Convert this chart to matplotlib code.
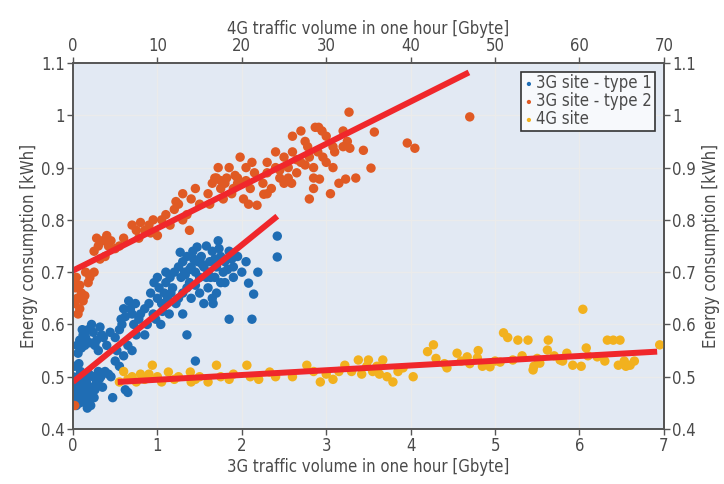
import matplotlib
matplotlib.use("Agg")
import matplotlib.pyplot as plt
from matplotlib.ticker import FuncFormatter

plt.rcParams['font.family'] = ['DejaVu Sans']
plt.rcParams['font.stretch'] = 'condensed'

BLUE = "#1f6db4"
ORANGE = "#e05a24"
YELLOW = "#f2b11e"
RED = "#f0272b"
BG = "#e2e9f3"
TEXT = "#4a4a4a"

# 3G site - type 1 (x: 3G traffic in Gbyte)
type1_x = [0.02, 0.05, 0.08, 0.10, 0.12, 0.15, 0.18, 0.20, 0.22, 0.25, 0.03, 0.06, 0.09, 0.13,
           0.16, 0.19, 0.24, 0.28, 0.30, 0.33, 0.02, 0.07, 0.11, 0.14, 0.26, 0.04, 0.17, 0.21,
           0.35, 0.38, 0.42, 0.45, 0.00, 0.01, 0.04, 0.09, 0.13, 0.17, 0.23, 0.27, 0.31, 0.01,
           0.05, 0.08, 0.10, 0.12, 0.15, 0.18, 0.20, 0.24, 0.28, 0.32, 0.36, 0.40, 0.44, 0.06,
           0.14, 0.30, 0.22, 0.11, 0.26, 0.34,
           0.50, 0.55, 0.60, 0.65, 0.70, 0.58, 0.62, 0.68, 0.72, 0.75, 0.50, 0.55, 0.47, 0.62,
           0.65, 0.80, 0.85, 0.78, 0.60, 0.66, 0.52, 0.57, 0.70, 0.74,
           0.85, 0.90, 0.95, 1.00, 1.02, 1.05, 1.08, 1.10, 1.12, 1.15, 1.18, 1.20, 0.92, 0.98,
           1.04, 1.00, 0.88, 1.06, 1.14, 1.22, 0.96, 1.10, 1.16,
           1.25, 1.28, 1.30, 1.32, 1.35, 1.38, 1.40, 1.42, 1.45, 1.48, 1.50, 1.52, 1.55, 1.58,
           1.60, 1.62, 1.65, 1.68, 1.70, 1.72, 1.75, 1.78, 1.80, 1.85, 1.90, 1.95, 2.00, 1.27,
           1.47, 1.30, 1.40, 1.50, 1.60, 1.55, 1.70, 1.80, 1.90, 2.05, 1.35, 1.45, 1.25, 1.65,
           1.75, 1.33, 1.43, 1.53, 1.63, 1.73, 1.83, 1.38, 1.58, 1.68, 1.88,
           2.42, 2.42, 2.19, 2.08, 2.14, 1.85, 2.12, 1.35, 1.45, 1.30, 1.66]
type1_y = [0.460, 0.470, 0.450, 0.480, 0.460, 0.450, 0.470, 0.455, 0.480, 0.460, 0.490, 0.500,
           0.510, 0.500, 0.490, 0.505, 0.500, 0.490, 0.510, 0.500, 0.520, 0.525, 0.485, 0.470,
           0.475, 0.445, 0.440, 0.445, 0.480, 0.510, 0.505, 0.500, 0.500, 0.475, 0.465, 0.495,
           0.485, 0.460, 0.470, 0.500, 0.495, 0.455,
           0.560, 0.570, 0.555, 0.580, 0.575, 0.590, 0.565, 0.585, 0.570, 0.595, 0.575, 0.560,
           0.585, 0.545, 0.560, 0.550, 0.600, 0.590, 0.560, 0.580,
           0.530, 0.520, 0.540, 0.560, 0.550, 0.600, 0.615, 0.630, 0.600, 0.580, 0.575, 0.590,
           0.460, 0.475, 0.470, 0.620, 0.580, 0.610, 0.630, 0.645, 0.550, 0.610, 0.620, 0.640,
           0.630, 0.640, 0.620, 0.650, 0.670, 0.640, 0.660, 0.680, 0.650, 0.690, 0.670, 0.700,
           0.660, 0.610, 0.600, 0.690, 0.600, 0.625, 0.620, 0.640, 0.680, 0.700, 0.660,
           0.710, 0.690, 0.720, 0.700, 0.730, 0.680, 0.710, 0.740, 0.700, 0.720, 0.690, 0.730,
           0.710, 0.750, 0.700, 0.720, 0.740, 0.690, 0.710, 0.760, 0.730, 0.700, 0.720, 0.740,
           0.710, 0.730, 0.700, 0.738, 0.748, 0.660, 0.650, 0.660, 0.670, 0.640, 0.660, 0.680,
           0.690, 0.720, 0.670, 0.675, 0.650, 0.650, 0.680, 0.695, 0.725, 0.715, 0.690, 0.745,
           0.705, 0.705, 0.690, 0.725, 0.725,
           0.769, 0.729, 0.700, 0.679, 0.658, 0.610, 0.610, 0.580, 0.530, 0.620, 0.640]

# 3G site - type 2 (x: 3G traffic in Gbyte)
type2_x = [0.02, 0.05, 0.08, 0.03, 0.10, 0.06, 0.12, 0.04, 0.15, 0.20, 0.25, 0.08, 0.18, 0.00,
           0.14, 0.02,
           0.30, 0.35, 0.40, 0.25, 0.45, 0.38, 0.28, 0.50, 0.32, 0.42, 0.55,
           0.70, 0.80, 0.85, 0.90, 0.75, 0.95, 1.00, 0.78, 0.92, 0.60,
           1.10, 1.20, 1.25, 1.30, 1.35, 1.40, 1.15, 1.45, 1.50, 1.38, 1.30, 1.05, 1.22,
           1.60, 1.65, 1.70, 1.75, 1.80, 1.85, 1.90, 1.95, 2.00, 2.05, 2.10, 2.15, 1.72, 1.62,
           1.88, 1.98, 2.02, 2.08, 1.78, 1.68, 2.12, 1.95, 1.82, 1.92, 1.75, 2.05,
           2.25, 2.30, 2.35, 2.40, 2.45, 2.50, 2.55, 2.60, 2.65, 2.70, 2.75, 2.80, 2.85, 2.90,
           2.95, 3.00, 2.50, 2.59, 2.30, 2.70, 2.40, 2.85, 3.00, 2.60, 2.55, 2.78, 2.96, 2.30,
           2.87, 2.91, 2.18, 2.26, 2.45, 2.65, 2.75,
           3.08, 3.10, 3.20, 3.28, 3.35, 3.15, 3.25, 3.05, 3.27, 3.57, 3.44, 3.53, 3.23, 2.80,
           3.96, 4.05, 4.70, 3.08, 2.92, 3.20, 2.85]
type2_y = [0.640, 0.650, 0.630, 0.670, 0.660, 0.620, 0.645, 0.690, 0.700, 0.690, 0.700, 0.675,
           0.680, 0.680, 0.655, 0.445,
           0.750, 0.760, 0.770, 0.740, 0.760, 0.730, 0.765, 0.745, 0.725, 0.750, 0.750,
           0.790, 0.795, 0.780, 0.790, 0.780, 0.800, 0.770, 0.765, 0.775, 0.765,
           0.810, 0.820, 0.830, 0.850, 0.810, 0.840, 0.790, 0.860, 0.830, 0.780, 0.800, 0.800,
           0.835,
           0.850, 0.870, 0.880, 0.860, 0.870, 0.900, 0.860, 0.880, 0.870, 0.900, 0.860, 0.890,
           0.900, 0.830, 0.850, 0.920, 0.840, 0.830, 0.840, 0.880, 0.910, 0.870, 0.880, 0.885,
           0.875, 0.875,
           0.870, 0.890, 0.860, 0.900, 0.880, 0.920, 0.900, 0.930, 0.890, 0.910, 0.950, 0.920,
           0.900, 0.930, 0.970, 0.960, 0.870, 0.870, 0.850, 0.970, 0.930, 0.880, 0.910, 0.960,
           0.880, 0.940, 0.920, 0.910, 0.977, 0.977, 0.828, 0.849, 0.895, 0.915, 0.905,
           0.940, 0.930, 0.940, 0.937, 0.880, 0.870, 0.950, 0.850, 1.006, 0.968, 0.933, 0.899,
           0.878, 0.840, 0.947, 0.937, 0.997, 0.900, 0.878, 0.970, 0.860]

# 4G site (x: 4G traffic in Gbyte, top axis)
g4_x = [5.5, 6.5, 7.0, 7.5, 8.0, 8.5, 9.4, 10.0, 10.5, 11.3, 12.0, 12.5, 13.9, 14.5, 15.0, 16.0,
        17.0, 17.5, 18.5, 19.0, 20.6, 21.0, 22.0, 23.3, 24.0, 6.0, 9.0, 14.0,
        26.0, 27.7, 28.5, 29.3, 30.0, 30.8, 31.5, 32.2, 33.0, 33.8, 34.2, 35.0, 35.5, 36.0, 36.7,
        37.2, 37.9, 38.5, 39.1, 40.3, 34.8, 36.3,
        42.7, 42.0, 43.0, 44.3, 45.5, 46.0, 46.7, 47.9, 48.5, 49.4, 50.0, 50.6, 51.0, 51.5, 52.1,
        52.7, 53.2, 53.9, 54.5, 54.6, 55.3, 56.2, 56.3, 57.0, 57.7, 58.5, 59.2, 60.2, 60.4, 60.8,
        62.1, 63.3, 64.0, 64.8, 64.6, 65.3, 66.0, 66.5, 69.5, 44.0, 47.0, 48.0, 55.0, 58.0, 61.0,
        63.0, 65.5]
g4_y = [0.490, 0.495, 0.500, 0.490, 0.505, 0.495, 0.522, 0.500, 0.490, 0.509, 0.495, 0.500,
        0.509, 0.495, 0.500, 0.490, 0.522, 0.500, 0.495, 0.505, 0.522, 0.500, 0.495, 0.509,
        0.500, 0.510, 0.505, 0.490,
        0.500, 0.522, 0.510, 0.490, 0.505, 0.495, 0.510, 0.522, 0.510, 0.532, 0.505, 0.532,
        0.510, 0.520, 0.532, 0.500, 0.490, 0.510, 0.517, 0.500, 0.520, 0.505,
        0.561, 0.548, 0.535, 0.517, 0.545, 0.530, 0.538, 0.536, 0.520, 0.519, 0.530, 0.528,
        0.584, 0.575, 0.532, 0.570, 0.540, 0.570, 0.513, 0.520, 0.526, 0.551, 0.570, 0.540,
        0.532, 0.545, 0.522, 0.520, 0.629, 0.555, 0.538, 0.570, 0.570, 0.570, 0.522, 0.530,
        0.522, 0.530, 0.561, 0.525, 0.525, 0.550, 0.535, 0.530, 0.540, 0.530, 0.520]

# regression lines (endpoints)
fit1_x = [0.0, 2.42]
fit1_y = [0.490, 0.807]
fit2_x = [0.0, 4.69]
fit2_y = [0.703, 1.082]
fit4g_x = [5.3, 69.2]
fit4g_y = [0.490, 0.548]

yticks = [0.4, 0.5, 0.6, 0.7, 0.8, 0.9, 1.0, 1.1]
fmt = FuncFormatter(lambda v, p: "%g" % round(v, 2))

fig = plt.figure(figsize=(7.24, 4.84), dpi=100)
ax = fig.add_axes([0.1008, 0.1136, 0.8162, 0.7562])
ax.set_facecolor(BG)

ax.scatter(type1_x, type1_y, s=46, color=BLUE, edgecolors="none", label="3G site - type 1", zorder=2)
ax.scatter(type2_x, type2_y, s=46, color=ORANGE, edgecolors="none", label="3G site - type 2", zorder=2)
ax.plot(fit1_x, fit1_y, color=RED, lw=4.3, solid_capstyle="butt", zorder=3)
ax.plot(fit2_x, fit2_y, color=RED, lw=4.3, solid_capstyle="butt", zorder=3)

ax.set_xlim(0, 7)
ax.set_ylim(0.4, 1.1)
ax.set_xticks(range(0, 8))
ax.set_yticks(yticks)
ax.yaxis.set_major_formatter(fmt)
ax.grid(True, color="#ebebeb", lw=1.0, zorder=0)
ax.set_axisbelow(True)
ax.set_xlabel("3G traffic volume in one hour [Gbyte]", fontsize=12, color=TEXT, labelpad=2)
ax.set_ylabel("Energy consumption [kWh]", fontsize=12, color=TEXT, labelpad=2)

top = ax.twiny()
top.scatter(g4_x, g4_y, s=46, color=YELLOW, edgecolors="none", label="4G site", zorder=2)
top.plot(fit4g_x, fit4g_y, color=RED, lw=4.3, solid_capstyle="butt", zorder=3)
top.set_xlim(0, 70)
top.set_xticks(range(0, 80, 10))
top.set_xlabel("4G traffic volume in one hour [Gbyte]", fontsize=12, color=TEXT, labelpad=2)

right = ax.secondary_yaxis("right")
right.set_yticks(yticks)
right.yaxis.set_major_formatter(fmt)
right.set_ylabel("Energy consumption [kWh]", fontsize=12, color=TEXT, labelpad=4)

for a in (ax, top, right):
    a.tick_params(direction="out", length=4, width=1, colors="#555555", labelsize=12,
                  labelcolor=TEXT, pad=2)
    for sp in a.spines.values():
        sp.set_color("#555555")
        sp.set_linewidth(1.2)

h1, l1 = ax.get_legend_handles_labels()
h2, l2 = top.get_legend_handles_labels()
leg = top.legend(h1 + h2, l1 + l2, loc="upper right", bbox_to_anchor=(0.99, 0.985),
                 fontsize=12, frameon=True, fancybox=False, markerscale=0.45,
                 handletextpad=0.1, handlelength=0.7, borderpad=0.15, labelspacing=0.0,
                 borderaxespad=0.2)
leg.get_frame().set_edgecolor("#333333")
leg.get_frame().set_linewidth(1.2)
leg.get_frame().set_facecolor("#f7f9fc")
leg.get_frame().set_alpha(1)
for t in leg.get_texts():
    t.set_color(TEXT)

fig.savefig("out.png", dpi=100)
